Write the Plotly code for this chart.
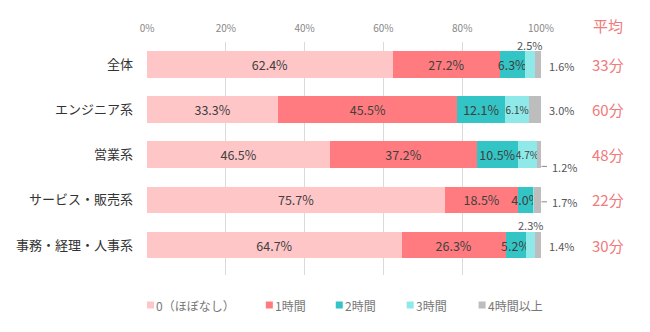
import plotly.graph_objects as go

categories = ["全体", "エンジニア系", "営業系", "サービス・販売系", "事務・経理・人事系"]
series_names = ["0（ほぼなし）", "1時間", "2時間", "3時間", "4時間以上"]
v0 = [62.4, 33.3, 46.5, 75.7, 64.7]
v1 = [27.2, 45.5, 37.2, 18.5, 26.3]
v2 = [6.3, 12.1, 10.5, 4.0, 5.2]
v3 = [2.5, 6.1, 4.7, 0.1, 2.3]
v4 = [1.6, 3.0, 1.2, 1.7, 1.4]
averages = ["33分", "60分", "48分", "22分", "30分"]
colors = ["#FFC6C8", "#FF7B7F", "#33C5C5", "#8FE9E9", "#BDBDBD"]
ticks = [0, 20, 40, 60, 80, 100]

FONT = "Noto Sans CJK JP"
LABEL = "#404040"
ACCENT = "#F07A7C"

L, R, T, B = 146.5, 109, 42, 57
PW = 650 - L - R
PH = 332 - T - B
BAND = PH / len(categories)


def px_x(px):
    return (px - L) / PW


def px_y(py):
    return 1 - (py - T) / PH


fig = go.Figure()
all_vals = [v0, v1, v2, v3, v4]
for i, (name, vals, col) in enumerate(zip(series_names, all_vals, colors)):
    texts, sizes = [], []
    for v in vals:
        if i <= 2:
            texts.append(f"{v:.1f}%")
            sizes.append(12.5)
        elif i == 3 and v >= 4:
            texts.append(f"{v:.1f}%")
            sizes.append(10)
        else:
            texts.append("")
            sizes.append(10)
    fig.add_trace(go.Bar(
        y=categories, x=vals, name=name, orientation="h",
        marker=dict(color=col, line=dict(width=0)),
        text=texts, textposition="inside", insidetextanchor="middle",
        textangle=0, constraintext="none",
        textfont=dict(color=LABEL, size=sizes, family=FONT),
        hoverinfo="skip", showlegend=False,
    ))

annotations = []
shapes = []
# outside labels for the 4h segment (two with short leader lines)
label_shift = [-1, 0, -12, -2, -1]
for k, (c, v) in enumerate(zip(categories, v4)):
    leader = k in (2, 3)
    annotations.append(dict(
        x=px_x(550 if leader else 547), xref="paper", y=c, yref="y",
        text=f"{v:.1f}%", showarrow=False, xanchor="left",
        yanchor="middle", yshift=label_shift[k],
        font=dict(size=11, color="#555555", family=FONT)))
    if leader:
        yy = k - label_shift[k] / BAND
        shapes.append(dict(type="line", xref="paper", yref="y",
                           x0=px_x(541.5), x1=px_x(547), y0=yy, y1=yy,
                           line=dict(color="#888888", width=1)))
# small 3h labels above the bars
for k in (0, 4):
    c = categories[k]
    xs = sum(all_vals[j][k] for j in range(3)) + v3[k] / 2
    annotations.append(dict(
        x=xs, y=c, xref="x", yref="y", text=f"{v3[k]:.1f}%",
        showarrow=False, yshift=20, xanchor="center", yanchor="middle",
        font=dict(size=11, color="#555555", family=FONT)))
# averages
for c, a in zip(categories, averages):
    annotations.append(dict(
        x=px_x(608), xref="paper", y=c, yref="y", text=a,
        showarrow=False, xanchor="center", yanchor="middle",
        font=dict(size=15, color=ACCENT, family=FONT)))
annotations.append(dict(
    x=px_x(608), xref="paper", y=px_y(26), yref="paper",
    text="平均", showarrow=False, xanchor="center", yanchor="middle",
    font=dict(size=15, color=ACCENT, family=FONT)))

# custom legend row
legend_marker_x = [150, 269, 339, 410, 482]
ly = px_y(305)
for name, col, mx in zip(series_names, colors, legend_marker_x):
    shapes.append(dict(type="rect", xref="paper", yref="paper",
                       x0=px_x(mx - 3.5), x1=px_x(mx + 3.5),
                       y0=ly - 3.5 / PH, y1=ly + 3.5 / PH,
                       fillcolor=col, line=dict(width=0)))
    annotations.append(dict(
        x=px_x(mx + 4), xref="paper", y=ly, yref="paper",
        text=name, showarrow=False, xanchor="left", yanchor="middle",
        font=dict(size=12, color="#777777", family=FONT)))

fig.update_layout(
    barmode="stack", bargap=0.41,
    width=650, height=332,
    margin=dict(l=L, r=R, t=T, b=B, autoexpand=False),
    paper_bgcolor="white", plot_bgcolor="white",
    font=dict(family=FONT, color="#333333"),
    xaxis=dict(range=[0, 100], side="top", tickvals=ticks,
               ticktext=[f"{t}%" for t in ticks],
               showgrid=True, gridcolor="#DADADA", gridwidth=1,
               zeroline=False, showline=False, ticks="",
               ticklabelstandoff=7,
               tickfont=dict(size=10, color="#888888", family=FONT)),
    yaxis=dict(autorange="reversed", showgrid=False, zeroline=False,
               showline=False, ticks="", ticklabelstandoff=13,
               tickfont=dict(size=13, color="#333333", family=FONT)),
    annotations=annotations,
    shapes=shapes,
    showlegend=False,
)

fig.write_html("out.html")
